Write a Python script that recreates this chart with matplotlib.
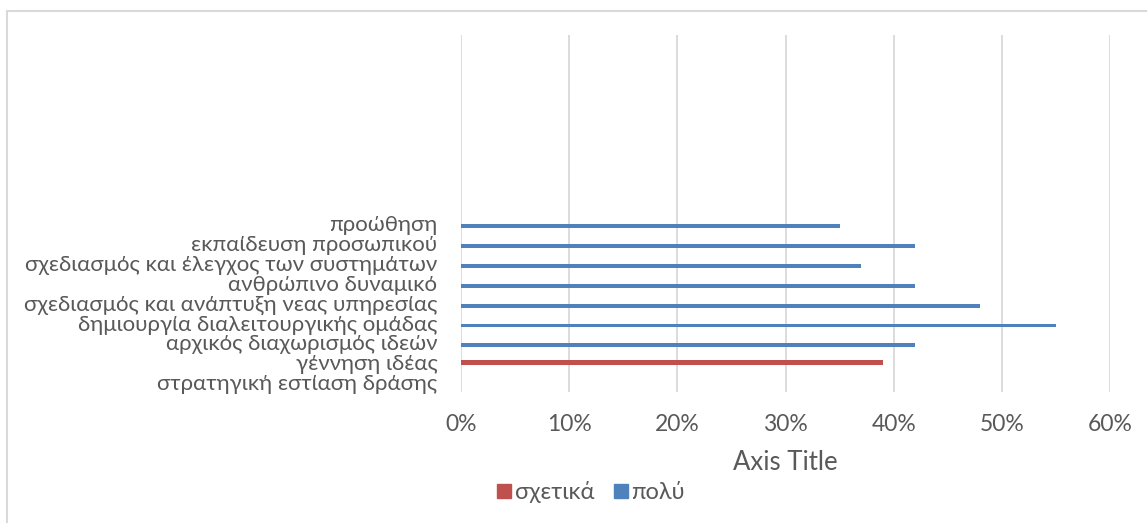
import matplotlib
matplotlib.use("Agg")
import matplotlib.pyplot as plt
from matplotlib.patches import Rectangle
from matplotlib.lines import Line2D
import numpy as np

plt.rcParams['font.family'] = ['Lato', 'DejaVu Sans']

# categories from bottom to top (the top nine are empty in the source chart)
categories = ["στρατηγική εστίαση δράσης", "γέννηση ιδέας", "αρχικός διαχωρισμός ιδεών",
              "δημιουργία διαλειτουργικής ομάδας", "σχεδιασμός και ανάπτυξη νεας υπηρεσίας",
              "ανθρώπινο δυναμικό", "σχεδιασμός και έλεγχος των συστημάτων",
              "εκπαίδευση προσωπικού", "προώθηση"] + [""] * 9
# values as fractions, None = no bar
sxetika = [None, 0.39, None, None, None, None, None, None, None] + [None] * 9
poly = [None, None, 0.42, 0.55, 0.48, 0.42, 0.37, 0.42, 0.35] + [None] * 9
series_names = ["σχετικά", "πολύ"]
xticks = [0, 0.1, 0.2, 0.3, 0.4, 0.5, 0.6]

red = '#c0504d'
blue = '#4f81bd'
txt = '#595959'
grid = '#d9d9d9'

W, H = 1147, 523
fig = plt.figure(figsize=(W / 100, H / 100), dpi=100)
ax = fig.add_axes([461 / W, 1 - 392 / H, (1110 - 461) / W, (392 - 34.7) / H])

y = np.arange(len(categories))
rv = np.array([np.nan if v is None else v for v in sxetika])
bv = np.array([np.nan if v is None else v for v in poly])
ax.barh(y, np.nan_to_num(rv), height=0.25, color=red, zorder=3)
ax.barh(y - 0.15, np.nan_to_num(bv), height=0.2, color=blue, zorder=3)

ax.set_ylim(-0.5, len(categories) - 0.5)
ax.set_xlim(0, 0.6)
ax.set_xticks(xticks)
ax.set_xticklabels([f"{int(round(t * 100))}%" for t in xticks])
ax.set_yticks(y)
ax.set_yticklabels(categories)
ax.tick_params(axis='both', length=0, colors=txt)
ax.tick_params(axis='x', pad=16, labelsize=16.5)
ax.tick_params(axis='y', pad=17, labelsize=16)
for s in ax.spines.values():
    s.set_visible(False)
ax.grid(axis='x', color=grid, lw=1.3, zorder=0)

fig.text(785.5 / W, 1 - 462 / H, "Axis Title", ha='center', va='center', color=txt, fontsize=18.5)

handles = [Line2D([], [], ls='none', marker='s', ms=9.5, color=red, label=series_names[0]),
           Line2D([], [], ls='none', marker='s', ms=9.5, color=blue, label=series_names[1])]
fig.legend(handles=handles, loc='center', bbox_to_anchor=(591 / W, 1 - 492 / H), ncol=2,
           frameon=False, fontsize=17, labelcolor=txt, handlelength=0.6,
           handletextpad=0.15, columnspacing=0.8)

fig.patches.append(Rectangle((7 / W, -0.1), 2, (H - 11) / H + 0.1, transform=fig.transFigure,
                             fill=False, edgecolor=grid, lw=1.5))

fig.savefig("out.png", dpi=100, facecolor='white')
